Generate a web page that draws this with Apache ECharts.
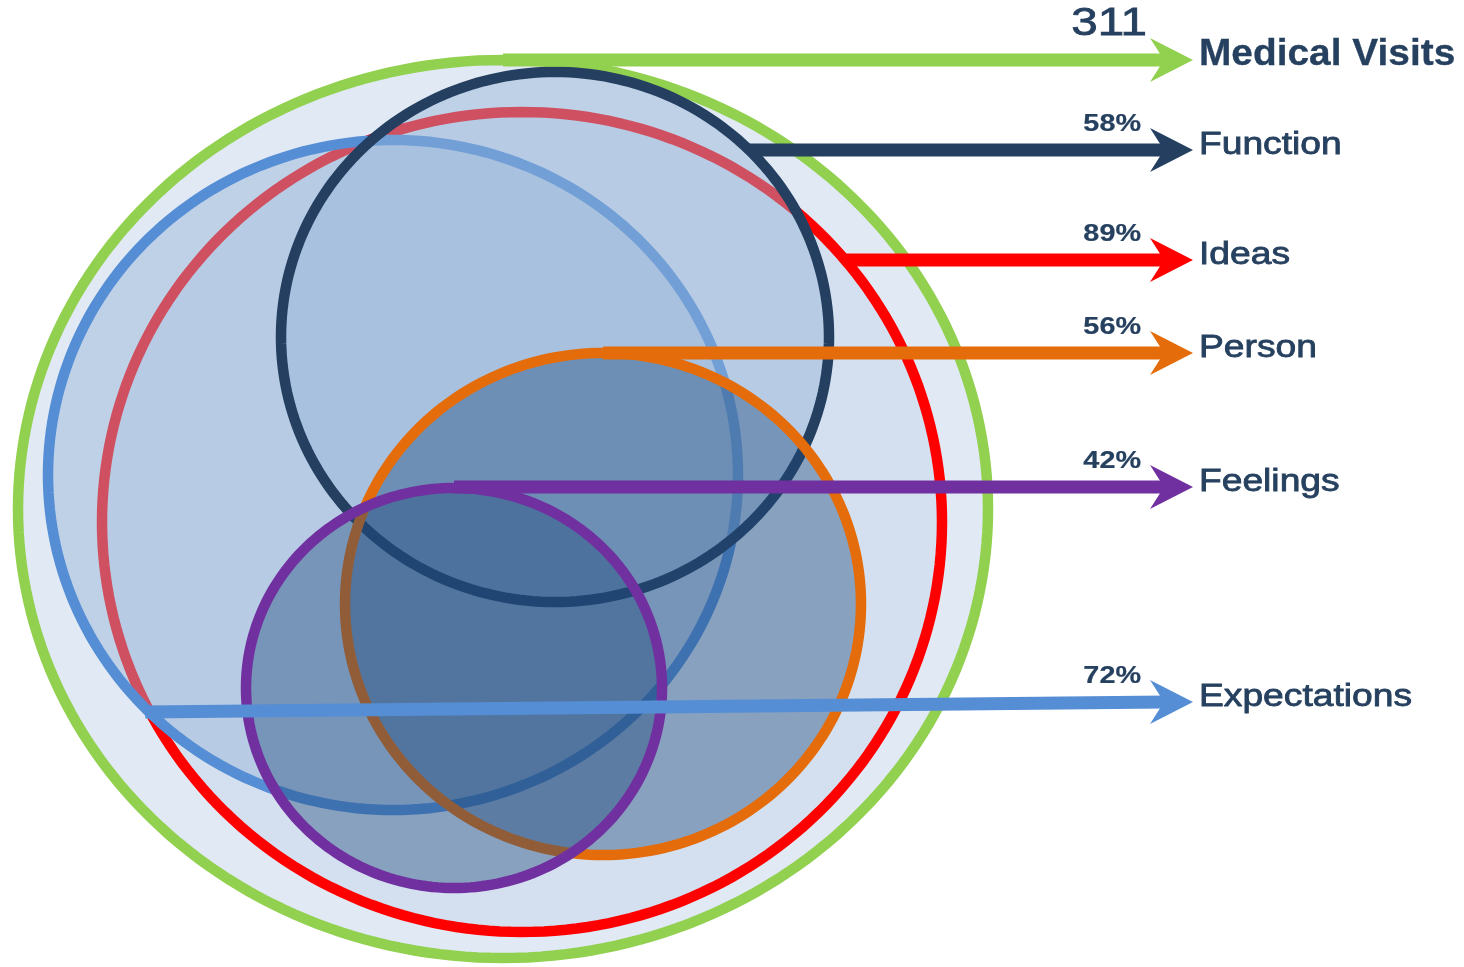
<!DOCTYPE html>
<html>
<head>
<meta charset="utf-8">
<script src="https://cdn.jsdelivr.net/npm/echarts@6/dist/echarts.min.js"></script>
<style>
html,body{margin:0;padding:0;background:#fff;}
#chart{width:1464px;height:967px;}
</style>
</head>
<body>
<div id="chart"></div>
<script>
// ---------- DATA ----------
const categories = ['Medical Visits', 'Function', 'Ideas', 'Person', 'Feelings', 'Expectations'];
const totalVisits = 311;
const sharePercent = [null, 58, 89, 56, 42, 72];   // share of medical visits per element
const valueLabels = categories.map((c, i) => i === 0 ? String(totalVisits) : sharePercent[i] + '%');

// ---------- LAYOUT (diagram geometry in axis units, not data) ----------
const ellipseCX = [503, 555, 522, 603, 454, 393];
const ellipseCY = [509, 337, 522, 604, 688, 475];
const ellipseRX = [485, 274, 420, 258, 208, 345];
const ellipseRY = [449, 265, 410, 251, 200, 335];
const arrowY     = [60, 150, 260, 353, 487, 702];
const drawOrder  = [0, 2, 5, 1, 3, 4];       // green, red, blue, navy, orange, purple

// ---------- STYLES ----------
const strokeColors = ['#92d050', '#243f60', '#ff0000', '#e46c0a', '#7030a0', '#558ed5'];
const fillColors = [
  'rgba(149,179,215,0.28)',
  'rgba(149,179,215,0.45)',
  'rgba(149,179,215,0.17)',
  'rgba(31,73,125,0.42)',
  'rgba(31,73,125,0.42)',
  'rgba(149,179,215,0.45)'
];
const textColor = '#26405f';
const ARROW_TIP = 1193, ARROW_BACK = 1150, ARROW_NOTCH = 1164, ARROW_HALF = 22;
const LABEL_X = 1199, VALUE_RIGHT = 1141;

function arrowStart(i) {
  const y = arrowY[i];
  const dy = (y - ellipseCY[i]) / ellipseRY[i];
  const k = Math.sqrt(Math.max(0, 1 - dy * dy));
  if (i === 5) return [ellipseCX[i] - ellipseRX[i] * k + 6, y + 10]; // expectations starts on left side, slightly sloped
  return [ellipseCX[i] + ellipseRX[i] * (i === 0 || i === 3 || i === 4 ? 0 : k), y];
}

const chart = echarts.init(document.getElementById('chart'), null, {renderer: 'canvas'});

const ellipseData = drawOrder.map(i => [ellipseCX[i], ellipseCY[i], ellipseRX[i], ellipseRY[i], i]);
const arrowData = categories.map((c, i) => {
  const s = arrowStart(i);
  return [s[0], s[1], ARROW_TIP, arrowY[i], i];
});
const labelData = categories.map((c, i) => [LABEL_X, arrowY[i], i]);

const option = {
  animation: false,
  backgroundColor: '#ffffff',
  grid: {left: 0, right: 0, top: 0, bottom: 0},
  xAxis: {type: 'value', min: 0, max: 1464, show: false},
  yAxis: {type: 'value', min: 0, max: 967, inverse: true, show: false},
  series: [
    {
      type: 'custom',
      coordinateSystem: 'cartesian2d',
      data: ellipseData,
      z: 1,
      renderItem: function (params, api) {
        const cx = api.value(0), cy = api.value(1), rx = api.value(2), ry = api.value(3), i = api.value(4);
        const pts = [];
        for (let a = 0; a < 360; a += 1.5) {
          const t = a * Math.PI / 180;
          pts.push(api.coord([cx + rx * Math.cos(t), cy + ry * Math.sin(t)]));
        }
        return {
          type: 'polygon',
          shape: {points: pts},
          style: {fill: fillColors[i], stroke: strokeColors[i], lineWidth: 10.5}
        };
      }
    },
    {
      type: 'custom',
      coordinateSystem: 'cartesian2d',
      data: arrowData,
      z: 2,
      renderItem: function (params, api) {
        const i = api.value(4);
        const p0 = api.coord([api.value(0), api.value(1)]);
        const y = api.value(3);
        const tip = api.coord([api.value(2), y]);
        const notch = api.coord([ARROW_NOTCH, y]);
        const bt = api.coord([ARROW_BACK, y - ARROW_HALF]);
        const bb = api.coord([ARROW_BACK, y + ARROW_HALF]);
        return {
          type: 'group',
          children: [
            {type: 'line', shape: {x1: p0[0], y1: p0[1], x2: notch[0] + 2, y2: notch[1]},
             style: {stroke: strokeColors[i], lineWidth: 13, lineCap: 'butt'}},
            {type: 'polygon', shape: {points: [tip, bt, notch, bb]},
             style: {fill: strokeColors[i]}}
          ]
        };
      }
    },
    {
      type: 'custom',
      coordinateSystem: 'cartesian2d',
      data: labelData,
      z: 3,
      renderItem: function (params, api) {
        const i = api.value(2);
        const y = api.value(1);
        const lp = api.coord([api.value(0), y - 5]);
        const isTotal = i === 0;
        const vp = api.coord([isTotal ? VALUE_RIGHT + 6 : VALUE_RIGHT, y - (isTotal ? 35 : 26)]);
        return {
          type: 'group',
          children: [
            {type: 'text', x: lp[0], y: lp[1], scaleX: isTotal ? 1.05 : 1.2,
             style: {text: categories[i], fill: textColor, stroke: textColor, lineWidth: isTotal ? 0.3 : 0.8,
                     align: 'left', verticalAlign: 'middle',
                     font: (isTotal ? 'bold 37px' : '31px') + ' "Liberation Sans", Arial, sans-serif'}},
            {type: 'text', x: vp[0], y: vp[1], scaleX: isTotal ? 1.25 : 1.2,
             style: {text: valueLabels[i], fill: textColor, stroke: textColor, lineWidth: isTotal ? 0.8 : 0.2,
                     align: 'right', verticalAlign: 'middle',
                     font: (isTotal ? '38px' : 'bold 24px') + ' "Liberation Sans", Arial, sans-serif'}}
          ]
        };
      }
    }
  ]
};
chart.setOption(option);
</script>
</body>
</html>
